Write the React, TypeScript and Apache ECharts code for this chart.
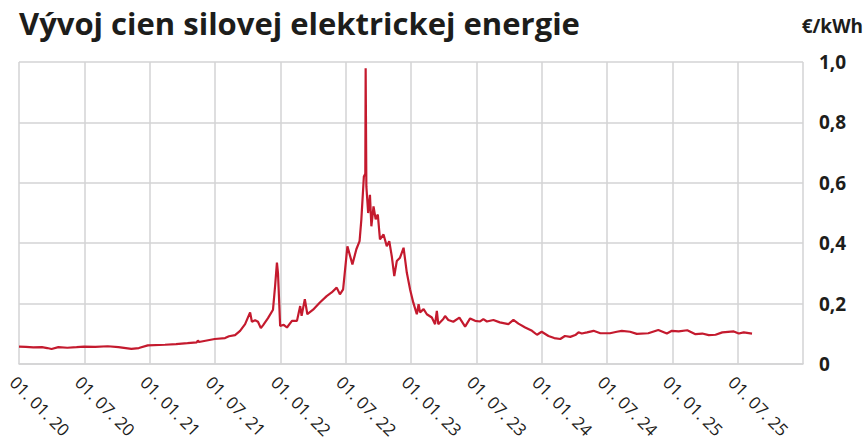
import React, { useEffect, useRef } from "react";
import * as echarts from "echarts";

const title = "Vývoj cien silovej elektrickej energie";
const unit = "€/kWh";

const xTickLabels = [
  "01. 01. 20", "01. 07. 20", "01. 01. 21", "01. 07. 21", "01. 01. 22", "01. 07. 22",
  "01. 01. 23", "01. 07. 23", "01. 01. 24", "01. 07. 24", "01. 01. 25", "01. 07. 25",
];

const dates = [
  "2020-01-01", "2020-01-20", "2020-02-10", "2020-03-05", "2020-03-20", "2020-04-01", "2020-04-20",
  "2020-05-15", "2020-06-10", "2020-07-01", "2020-08-01", "2020-09-05", "2020-10-05", "2020-11-10",
  "2020-12-01", "2020-12-26", "2021-02-12", "2021-03-15", "2021-04-16", "2021-05-12", "2021-05-15",
  "2021-05-18", "2021-07-01", "2021-07-30", "2021-08-10", "2021-08-27", "2021-09-10", "2021-09-24",
  "2021-10-08", "2021-10-13", "2021-10-22", "2021-10-30", "2021-11-07", "2021-11-14", "2021-11-27",
  "2021-12-11", "2021-12-17", "2021-12-22", "2021-12-25", "2021-12-31", "2022-01-10", "2022-01-19",
  "2022-02-02", "2022-02-16", "2022-02-25", "2022-03-01", "2022-03-10", "2022-03-17", "2022-04-02",
  "2022-04-21", "2022-05-10", "2022-05-24", "2022-06-07", "2022-06-16", "2022-06-25", "2022-07-07",
  "2022-07-21", "2022-08-01", "2022-08-10", "2022-08-15", "2022-08-22", "2022-08-26", "2022-08-27",
  "2022-08-29", "2022-09-03", "2022-09-08", "2022-09-12", "2022-09-18", "2022-09-24", "2022-09-30",
  "2022-10-06", "2022-10-16", "2022-10-25", "2022-11-01", "2022-11-08", "2022-11-15", "2022-11-22",
  "2022-12-01", "2022-12-11", "2022-12-20", "2022-12-29", "2023-01-07", "2023-01-17", "2023-01-22",
  "2023-01-26", "2023-02-05", "2023-02-14", "2023-02-28", "2023-03-09", "2023-03-14", "2023-03-18",
  "2023-04-01", "2023-04-06", "2023-04-15", "2023-04-29", "2023-05-16", "2023-06-01", "2023-06-15",
  "2023-06-29", "2023-07-13", "2023-07-22", "2023-08-01", "2023-08-19", "2023-09-06", "2023-09-30",
  "2023-10-14", "2023-10-28", "2023-11-16", "2023-12-05", "2023-12-19", "2024-01-01", "2024-01-20",
  "2024-02-05", "2024-02-22", "2024-03-06", "2024-03-21", "2024-04-04", "2024-04-13", "2024-04-22",
  "2024-05-07", "2024-05-25", "2024-06-13", "2024-07-10", "2024-07-29", "2024-08-12", "2024-09-04",
  "2024-09-23", "2024-10-25", "2024-11-22", "2024-12-16", "2024-12-30", "2025-01-18", "2025-02-11",
  "2025-03-06", "2025-03-25", "2025-04-12", "2025-05-01", "2025-05-20", "2025-06-21", "2025-07-05",
  "2025-07-19", "2025-08-11",
];

const prices = [
  0.058, 0.057, 0.055, 0.056, 0.053, 0.05, 0.056,
  0.054, 0.056, 0.058, 0.057, 0.059, 0.056, 0.05,
  0.053, 0.062, 0.064, 0.066, 0.069, 0.072, 0.078,
  0.073, 0.083, 0.086, 0.092, 0.096, 0.11, 0.132,
  0.171, 0.14, 0.145, 0.14, 0.119, 0.13, 0.152,
  0.18, 0.26, 0.336, 0.3, 0.126, 0.13, 0.121,
  0.143, 0.143, 0.192, 0.16, 0.215, 0.165, 0.18,
  0.204, 0.225, 0.237, 0.253, 0.231, 0.247, 0.39,
  0.33, 0.38, 0.407, 0.479, 0.621, 0.63, 0.979,
  0.588, 0.5, 0.56, 0.456, 0.522, 0.479, 0.495,
  0.413, 0.429, 0.39, 0.407, 0.357, 0.291, 0.341,
  0.352, 0.385, 0.303, 0.248, 0.204, 0.165, 0.198,
  0.171, 0.182, 0.165, 0.154, 0.132, 0.176, 0.132,
  0.149, 0.159, 0.146, 0.14, 0.154, 0.124, 0.151,
  0.143, 0.141, 0.149, 0.141, 0.146, 0.138, 0.132,
  0.146, 0.134, 0.121, 0.11, 0.097, 0.107, 0.093,
  0.086, 0.083, 0.093, 0.09, 0.096, 0.105, 0.101,
  0.105, 0.11, 0.102, 0.102, 0.107, 0.11, 0.107,
  0.1, 0.102, 0.113, 0.101, 0.11, 0.108, 0.112,
  0.099, 0.101, 0.096, 0.097, 0.105, 0.108, 0.101,
  0.105, 0.101,
];

const START = Date.UTC(2020, 0, 1);
const YEAR_MS = 365.25 * 86400000;
const toYears = (d: string) => {
  const [y, m, day] = d.split("-").map(Number);
  return (Date.UTC(y, m - 1, day) - START) / YEAR_MS;
};

const GRID = "#d3d3d5";
const TEXT = "#1d1d1b";

export default function App() {
  const ref = useRef<HTMLDivElement>(null);
  useEffect(() => {
    if (!ref.current) return;
    const chart = echarts.init(ref.current, undefined, { renderer: "svg" });
    const data = dates.map((d, i) => [toYears(d), prices[i]]);
    chart.setOption({
      animation: false,
      title: {
        text: title,
        left: 14,
        top: 2,
        textStyle: { fontFamily: "Open Sans", fontWeight: "bold", fontSize: 31, color: TEXT },
      },
      graphic: [
        {
          type: "text",
          right: 4,
          top: 16,
          style: { text: unit, font: "bold 19px 'Open Sans'", fill: TEXT },
        },
      ],
      grid: { left: 19, right: 64, top: 62, bottom: 76, containLabel: false },
      xAxis: {
        type: "value",
        min: 0,
        max: 6,
        interval: 0.5,
        axisLine: { show: true, lineStyle: { color: GRID, width: 1.5 } },
        axisTick: { show: false },
        splitLine: { show: true, lineStyle: { color: GRID, width: 1.5 } },
        axisLabel: {
          rotate: -45,
          margin: 9,
          align: "left",
          verticalAlign: "top",
          fontFamily: "Open Sans",
          fontSize: 17,
          color: TEXT,
          showMaxLabel: true,
          showMinLabel: true,
          formatter: (v: number) => xTickLabels[Math.round(v * 2)] ?? "",
        },
      },
      yAxis: {
        type: "value",
        position: "right",
        min: 0,
        max: 1,
        interval: 0.2,
        axisLine: { show: false },
        axisTick: { show: false },
        splitLine: { show: true, lineStyle: { color: GRID, width: 1.5 } },
        axisLabel: {
          margin: 16,
          fontFamily: "Open Sans",
          fontWeight: "bold",
          fontSize: 19,
          color: TEXT,
          formatter: (v: number) => (v === 0 ? "0" : v.toFixed(1).replace(".", ",")),
        },
      },
      series: [
        {
          type: "line",
          data,
          showSymbol: false,
          symbol: "none",
          lineStyle: { color: "#c41a2e", width: 2.2 },
          z: 3,
        },
      ],
    });
    return () => chart.dispose();
  }, []);
  return (
    <div
      ref={ref}
      style={{ position: "fixed", left: 0, top: 0, width: 867, height: 441, background: "#fff" }}
    />
  );
}
